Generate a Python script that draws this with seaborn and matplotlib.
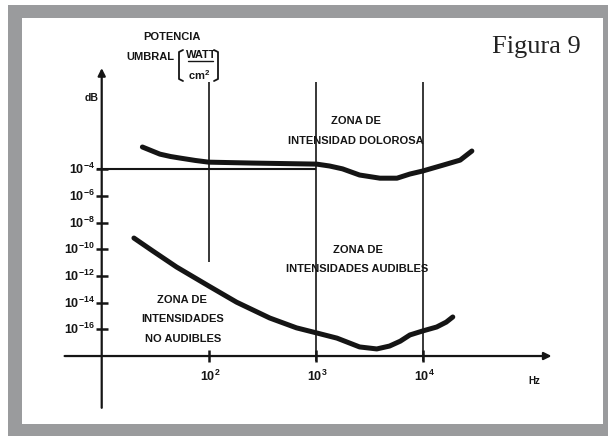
import numpy as np
import matplotlib
matplotlib.use("Agg")
from matplotlib import pyplot as plt
from matplotlib.patches import Rectangle
import seaborn as sns

# umbral de dolor (Hz, W/cm2)
dolor_hz = [24, 35, 44, 54, 75, 100, 257, 1020, 1350, 1780, 2570, 3980, 5750, 7590, 10000,
            15500, 22400, 28800]
dolor_w = [4.8e-3, 1.4e-3, 9.3e-4, 7.1e-4, 4.7e-4, 3.5e-4, 3.0e-4, 2.5e-4, 1.8e-4, 1.1e-4,
           3.8e-5, 2.2e-5, 2.2e-5, 4.5e-5, 7.6e-5, 2.1e-4, 5.0e-4, 2.4e-3]

# umbral de audicion (Hz, W/cm2)
audicion_hz = [20, 30, 50, 100, 182, 372, 661, 1020, 1580, 2570, 3720, 4900, 6170, 7590,
               10000, 13500, 16600, 19100]
audicion_w = [7.1e-10, 7.6e-11, 4.8e-12, 1.8e-13, 1.1e-14, 7.1e-16, 1.3e-16, 5.4e-17, 2.2e-17,
              4.8e-18, 3.4e-18, 5.6e-18, 1.3e-17, 3.8e-17, 7.6e-17, 1.5e-16, 3.5e-16, 8.5e-16]

y_ticks = [1e-4, 1e-6, 1e-8, 1e-10, 1e-12, 1e-14, 1e-16]
y_labels = ["$10^{-4}$", "$10^{-6}$", "$10^{-8}$", "$10^{-10}$", "$10^{-12}$", "$10^{-14}$", "$10^{-16}$"]
x_ticks = [100, 1000, 10000]
x_labels = ["$10^{2}$", "$10^{3}$", "$10^{4}$"]

INK = "#151515"
W, H = 608, 436

sns.set_style("white")
plt.rcParams["font.family"] = ["Liberation Sans", "DejaVu Sans"]
plt.rcParams["mathtext.fontset"] = "custom"
plt.rcParams["mathtext.rm"] = "Liberation Sans:bold"
plt.rcParams["mathtext.it"] = "Liberation Sans:bold"
plt.rcParams["mathtext.bf"] = "Liberation Sans:bold"


def px(x, y):
    return x / W, 1 - y / H


fig = plt.figure(figsize=(W / 100, H / 100), dpi=100)
fig.patch.set_facecolor("white")
fig.patches.append(Rectangle(px(8, 436), (W - 8) / W, (436 - 5) / H, transform=fig.transFigure,
                             facecolor="#9a9b9d", edgecolor="none", zorder=-5))

ax = fig.add_axes([22 / W, (H - 424) / H, (603 - 22) / W, (424 - 18) / H])
ax.set_zorder(1)
ax.set_facecolor("white")
ax.set_xscale("log")
ax.set_yscale("log")
ax.set_xlim(10 ** 0.255, 10 ** 5.685)
ax.set_ylim(10 ** -23.1, 10 ** 7.36)
for s in ax.spines.values():
    s.set_visible(False)
ax.set_xticks([])
ax.set_yticks([])
ax.minorticks_off()

# ejes con flechas
ax.annotate("", xy=(1.6e5, 1e-18), xytext=(4.5, 1e-18),
            arrowprops=dict(arrowstyle="-|>", lw=1.6, color=INK, mutation_scale=11, shrinkA=0, shrinkB=0))
ax.annotate("", xy=(10, 4e3), xytext=(10, 1.3e-22),
            arrowprops=dict(arrowstyle="-|>", lw=1.6, color=INK, mutation_scale=11, shrinkA=0, shrinkB=0))

# lineas de referencia
ax.vlines([100], 1.1e-11, 3.5e2, color=INK, lw=1.2)
ax.vlines([1000, 10000], 4e-19, 3.5e2, color=INK, lw=1.2)
ax.hlines([1e-4], 9.0, 1000, color=INK, lw=1.5)

# marcas
ax.plot([10] * len(y_ticks), y_ticks, ls="none", marker="_", markersize=8, mew=1.8, color=INK)
ax.plot(x_ticks, [1e-18] * len(x_ticks), ls="none", marker="|", markersize=8, mew=1.8, color=INK)
for v, lab in zip(y_ticks, y_labels):
    ax.annotate(lab, xy=(10, v), xytext=(-5, -3.5), textcoords="offset points",
                ha="right", va="baseline", fontsize=9, color=INK)
for v, lab in zip(x_ticks, x_labels):
    ax.annotate(lab, xy=(v, 1e-18), xytext=(1, -18), textcoords="offset points",
                ha="center", va="baseline", fontsize=9, color=INK)

# curvas
sns.lineplot(x=dolor_hz, y=dolor_w, ax=ax, color=INK, linewidth=3.6, sort=False,
             solid_capstyle="round", solid_joinstyle="round")
sns.lineplot(x=audicion_hz, y=audicion_w, ax=ax, color=INK, linewidth=3.6, sort=False,
             solid_capstyle="round", solid_joinstyle="round")

# textos
kw = dict(ha="center", va="center", fontsize=8, fontweight="bold", color=INK, zorder=5)
fig.text(*px(172, 37), "POTENCIA", **kw)
fig.text(*px(150, 57), "UMBRAL", **kw)
fig.text(*px(201, 55), "WATT", **kw)
fig.text(*px(199, 75), "cm$^{2}$", **kw)
fig.add_artist(plt.Line2D([188 / W, 213 / W], [1 - 61.5 / H, 1 - 61.5 / H], color=INK, lw=1.0, zorder=5))
for xs in ([183, 179, 179, 183], [214, 218, 218, 214]):
    fig.add_artist(plt.Line2D([x / W for x in xs], [1 - 50 / H, 1 - 52 / H, 1 - 79 / H, 1 - 81 / H],
                              color=INK, lw=1.3, zorder=5))
fig.text(*px(92, 98), "dB", **dict(kw, fontsize=7.5))
fig.text(*px(534, 381), "Hz", **dict(kw, fontsize=7))

fig.text(*px(356, 121), "ZONA DE", **kw)
fig.text(*px(356, 141), "INTENSIDAD DOLOROSA", **kw)
fig.text(*px(358, 250), "ZONA DE", **kw)
fig.text(*px(357, 269), "INTENSIDADES AUDIBLES", **kw)
fig.text(*px(182, 300), "ZONA DE", **kw)
fig.text(*px(183, 319), "INTENSIDADES", **kw)
fig.text(*px(183, 339), "NO AUDIBLES", **kw)

fig.text(*px(581, 53), "Figura 9", ha="right", va="baseline", fontsize=19,
         family=["Liberation Serif", "DejaVu Serif"], color="#222222", zorder=5)

fig.savefig("out.png", dpi=100)
